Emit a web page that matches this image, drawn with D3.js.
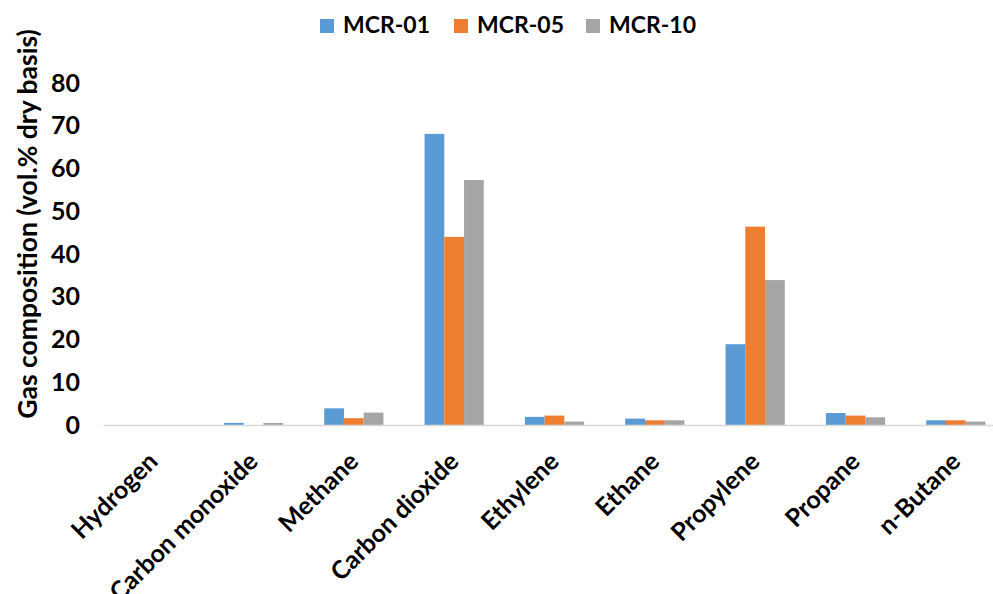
<!DOCTYPE html>
<html>
<head>
<meta charset="utf-8">
<script src="https://cdn.jsdelivr.net/npm/d3@7"></script>
<style>
  html, body { margin: 0; padding: 0; background: #fff; }
  svg { display: block; font-family: Lato, "Open Sans", sans-serif; font-weight: bold; }
</style>
</head>
<body>
<svg id="chart" width="993" height="594"></svg>
<script>
// Gas composition by run (vol.% dry basis)
const categories = ["Hydrogen", "Carbon monoxide", "Methane", "Carbon dioxide", "Ethylene", "Ethane", "Propylene", "Propane", "n-Butane"];
const seriesNames = ["MCR-01", "MCR-05", "MCR-10"];
const mcr01 = [0, 0.5, 3.9, 68.1, 1.9, 1.5, 18.9, 2.8, 1.1];
const mcr05 = [0, 0, 1.6, 44.0, 2.2, 1.1, 46.4, 2.2, 1.1];
const mcr10 = [0, 0.5, 2.9, 57.3, 0.8, 1.1, 33.9, 1.8, 0.8];
const yTicks = [0, 10, 20, 30, 40, 50, 60, 70, 80];
const colors = ["#5b9bd5", "#ed7d31", "#a5a5a5"];

const seriesValues = [mcr01, mcr05, mcr10];
const rows = categories.map((c, i) => ({
  category: c,
  values: seriesNames.map((s, k) => ({ series: s, value: seriesValues[k][i] }))
}));

const svg = d3.select("#chart");
const plot = { left: 103, right: 1006, top: 83, bottom: 425 };

const x0 = d3.scaleBand()
  .domain(categories)
  .range([plot.left, plot.right])
  .paddingInner(0.41)
  .paddingOuter(0.205);

const x1 = d3.scaleBand()
  .domain(seriesNames)
  .range([0, x0.bandwidth()]);

const y = d3.scaleLinear()
  .domain([0, 80])
  .range([plot.bottom, plot.top]);

const color = d3.scaleOrdinal().domain(seriesNames).range(colors);

// bars
svg.append("g")
  .selectAll("g")
  .data(rows)
  .join("g")
  .attr("transform", d => `translate(${x0(d.category)},0)`)
  .selectAll("rect")
  .data(d => d.values)
  .join("rect")
  .attr("x", d => x1(d.series))
  .attr("width", x1.bandwidth())
  .attr("y", d => y(d.value))
  .attr("height", d => y(0) - y(d.value))
  .attr("fill", d => color(d.series));

// category axis
const xAxis = svg.append("g")
  .attr("transform", `translate(0,${plot.bottom})`)
  .call(d3.axisBottom(x0).tickSize(0).tickSizeOuter(0));
xAxis.select(".domain").attr("stroke", "#d9d9d9").attr("stroke-width", 1.5);
xAxis.selectAll(".tick text")
  .attr("fill", "#000")
  .style("font-size", "25px")
  .style("font-family", "Lato, 'Open Sans', sans-serif")
  .style("font-weight", "bold")
  .attr("text-anchor", "end")
  .attr("dy", 0)
  .attr("y", 0)
  .attr("transform", "translate(6,38) rotate(-45)");

// value axis
const yAxis = svg.append("g")
  .attr("transform", `translate(${plot.left},0)`)
  .call(d3.axisLeft(y).tickValues(yTicks).tickSize(0).tickPadding(23));
yAxis.select(".domain").remove();
yAxis.selectAll(".tick text")
  .attr("fill", "#000")
  .style("font-size", "25px")
  .style("font-family", "Lato, 'Open Sans', sans-serif")
  .style("font-weight", "bold");

// value axis title
svg.append("text")
  .attr("transform", "translate(37,224) rotate(-90)")
  .attr("text-anchor", "middle")
  .style("font-size", "26.5px")
  .text("Gas composition (vol.% dry basis)");

// legend
const legendX = [320, 454, 586];
const legend = svg.append("g")
  .selectAll("g")
  .data(seriesNames)
  .join("g")
  .attr("transform", (d, i) => `translate(${legendX[i]},19)`);
legend.append("rect")
  .attr("width", 14)
  .attr("height", 14)
  .attr("fill", d => color(d));
legend.append("text")
  .attr("x", 23)
  .attr("y", 14)
  .style("font-size", "23px")
  .text(d => d);
</script>
</body>
</html>
